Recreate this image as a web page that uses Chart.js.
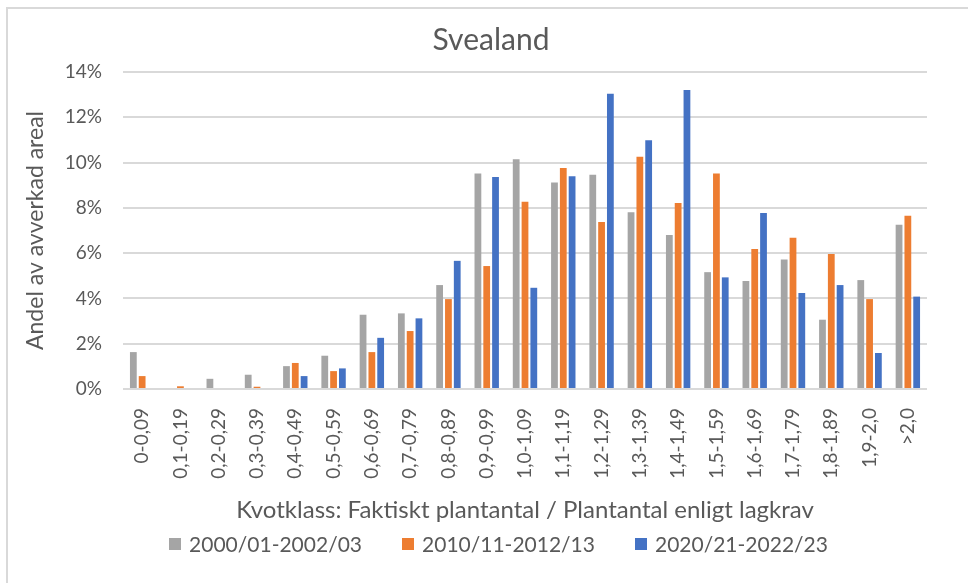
<!DOCTYPE html>
<html>
<head>
<meta charset="utf-8">
<script src="https://cdn.jsdelivr.net/npm/chart.js@4.4.1/dist/chart.umd.min.js"></script>
<style>
  body { margin: 0; background: #fff; }
  #wrap { position: relative; width: 968px; height: 583px; }
  #legend {
    position: absolute; left: 0; top: 531px; width: 997px;
    display: flex; justify-content: center; gap: 40px;
    font-family: Lato, sans-serif; font-size: 21px; color: #595959;
  }
  #legend span.box { display: inline-block; width: 12px; height: 12px; margin-right: 8px; }
  #legend div { display: flex; align-items: center; }
</style>
</head>
<body>
<div id="wrap">
  <canvas id="myBarChart" width="968" height="583"></canvas>
  <div id="legend"></div>
</div>
<script>
// data (percent of felled area)
const categories = ["0-0,09", "0,1-0,19", "0,2-0,29", "0,3-0,39", "0,4-0,49", "0,5-0,59", "0,6-0,69",
  "0,7-0,79", "0,8-0,89", "0,9-0,99", "1,0-1,09", "1,1-1,19", "1,2-1,29", "1,3-1,39", "1,4-1,49",
  "1,5-1,59", "1,6-1,69", "1,7-1,79", "1,8-1,89", "1,9-2,0", ">2,0"];
const seriesNames = ["2000/01-2002/03", "2010/11-2012/13", "2020/21-2022/23"];
const values2000 = [1.63, 0, 0.45, 0.63, 1.01, 1.47, 3.28, 3.34, 4.59, 9.52, 10.15, 9.12, 9.46, 7.81, 6.80, 5.16, 4.77, 5.72, 3.06, 4.81, 7.25];
const values2010 = [0.57, 0.12, 0, 0.10, 1.15, 0.79, 1.63, 2.56, 3.97, 5.43, 8.27, 9.76, 7.37, 10.26, 8.21, 9.52, 6.18, 6.68, 5.96, 3.97, 7.65];
const values2020 = [0, 0, 0, 0, 0.57, 0.91, 2.26, 3.12, 5.66, 9.36, 4.47, 9.40, 13.04, 10.99, 13.20, 4.93, 7.77, 4.24, 4.59, 1.59, 4.08];
const yTicks = [0, 2, 4, 6, 8, 10, 12, 14];
const colors = ["#A5A5A5", "#ED7D31", "#4472C4"];

const textColor = "#595959";
const fontName = "Lato, sans-serif";

// light gray frame like the excel chart border
const framePlugin = {
  id: "frame",
  beforeDraw(chart) {
    const c = chart.ctx;
    c.save();
    c.strokeStyle = "#d9d9d9";
    c.lineWidth = 2;
    c.beginPath();
    c.moveTo(7, 583);
    c.lineTo(7, 8);
    c.lineTo(968, 8);
    c.stroke();
    c.restore();
  },
};

const ctx = document.getElementById("myBarChart").getContext("2d");
const myBarChart = new Chart(ctx, {
  type: "bar",
  data: {
    labels: categories,
    datasets: [values2000, values2010, values2020].map((vals, i) => ({
      label: seriesNames[i],
      data: vals,
      backgroundColor: colors[i],
      categoryPercentage: 0.69,
      barPercentage: 0.77,
    })),
  },
  options: {
    responsive: false,
    animation: false,
    layout: { padding: { left: 14, right: 0, top: 0, bottom: 58 } },
    plugins: {
      legend: { display: false },
      tooltip: { enabled: false },
      title: {
        display: true,
        text: "Svealand",
        color: textColor,
        font: { family: fontName, size: 30, weight: "normal" },
        padding: { top: 22, bottom: 14 },
      },
    },
    scales: {
      x: {
        grid: { display: false },
        border: { display: false },
        ticks: {
          color: textColor,
          font: { family: fontName, size: 19 },
          minRotation: 90,
          maxRotation: 90,
          autoSkip: false,
          padding: 11,
        },
        title: {
          display: true,
          text: "Kvotklass: Faktiskt plantantal / Plantantal enligt lagkrav",
          color: textColor,
          font: { family: fontName, size: 24 },
          padding: { top: 0, bottom: 0 },
        },
        afterFit: (scale) => { scale.height = 136; },
      },
      y: {
        min: 0,
        max: 14,
        afterBuildTicks: (scale) => { scale.ticks = yTicks.map((v) => ({ value: v })); },
        grid: { color: "#d9d9d9", lineWidth: 2, drawTicks: false },
        border: { display: false },
        ticks: {
          color: textColor,
          font: { family: fontName, size: 19 },
          padding: 21,
          callback: (v) => v + "%",
        },
        title: {
          display: true,
          text: "Andel av avverkad areal",
          color: textColor,
          font: { family: fontName, size: 23 },
          padding: { top: 8, bottom: 4 },
        },
        afterFit: (scale) => { scale.width = 109; },
      },
      // empty right axis, only keeps the plot's right edge where the picture has it
      yRight: {
        position: "right",
        display: true,
        grid: { display: false },
        border: { display: false },
        ticks: { display: false },
        afterFit: (scale) => { scale.width = 41; },
      },
    },
  },
  plugins: [framePlugin],
});

// legend as html under the chart
const legend = document.getElementById("legend");
seriesNames.forEach((name, i) => {
  const item = document.createElement("div");
  item.innerHTML = '<span class="box" style="background:' + colors[i] + '"></span>' + name;
  legend.appendChild(item);
});
</script>
</body>
</html>
